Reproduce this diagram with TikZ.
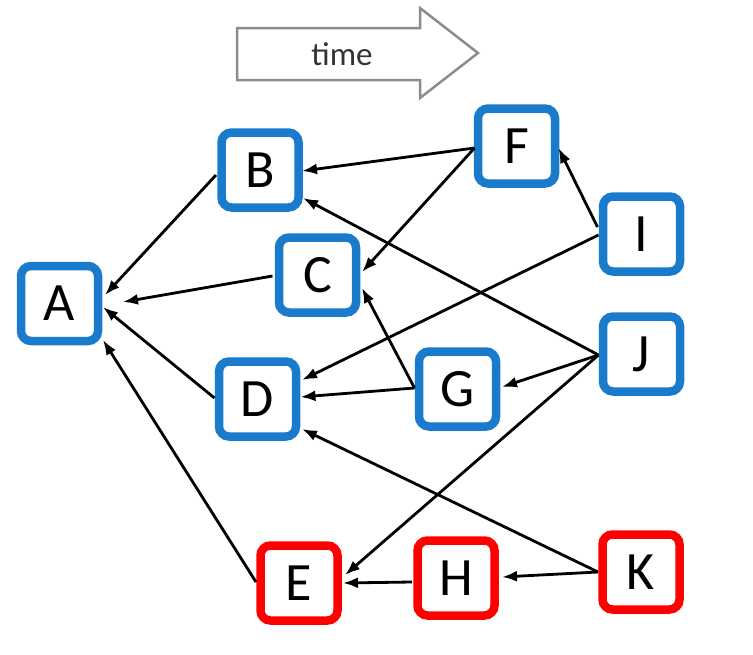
\documentclass[tikz,border=0pt]{standalone}
\usepackage{fontspec}
\setmainfont{Carlito}
\usetikzlibrary{arrows.meta,calc}
\definecolor{boxblue}{RGB}{26,122,204}
\definecolor{boxred}{RGB}{255,0,0}
\definecolor{arrgray}{RGB}{140,140,140}
\tikzset{
  box/.style={draw=boxblue, line width=8.5pt, rounded corners=10pt, fill=white,
    minimum width=77pt, minimum height=75pt, inner sep=0pt,
    font=\fontsize{54}{54}\selectfont},
  redbox/.style={box, draw=boxred},
  conn/.style={line width=2.8pt, black, -{Latex[length=15pt,width=11pt]}},
}
\begin{document}
\begin{tikzpicture}[x=1pt,y=-1pt]
\useasboundingbox (0,0) rectangle (753,654);
% time arrow
\draw[arrgray, line width=2.5pt, fill=white, line join=miter]
  (237,28) -- (420,28) -- (420,8) -- (478,53) -- (420,98) -- (420,80) -- (237,80) -- cycle;
\node[font=\fontsize{33}{33}\selectfont, text=black!80] (time) at (342,54) {time};
% nodes
\node[box] (A) at (59.5,303.5) {A};
\node[box] (B) at (260,170) {B};
\node[box] (C) at (317.5,275) {C};
\node[box] (D) at (257.5,399) {D};
\node[redbox] (E) at (299,583) {E};
\node[box] (F) at (516.5,146) {F};
\node[box] (G) at (457.5,389) {G};
\node[redbox] (H) at (456,578) {H};
\node[box] (I) at (641.5,234) {I};
\node[box] (J) at (641.5,354) {J};
\node[redbox] (K) at (641,572) {K};
% connectors
\draw[conn] ([shift={(-44,5)}]B.center) -- ([shift={(45.5,-8.5)}]A.center);
\draw[conn] ([shift={(-45,1)}]C.center) -- ([shift={(63.5,-1.5)}]A.center);
\draw[conn] ([shift={(-43,-1)}]D.center) -- ([shift={(43.5,3.5)}]A.center);
\draw[conn] ([shift={(-43,-1)}]E.center) -- ([shift={(43.5,36.5)}]A.center);
\draw[conn] ([shift={(-42,2)}]F.center) -- ([shift={(42,1)}]B.center);
\draw[conn] ([shift={(-42,2)}]F.center) -- ([shift={(44.5,-3)}]C.center);
\draw[conn] ([shift={(-44,-7)}]I.center) -- ([shift={(42,2)}]F.center);
\draw[conn] ([shift={(-43,1)}]I.center) -- ([shift={(44.5,-19)}]D.center);
\draw[conn] ([shift={(-43,1)}]J.center) -- ([shift={(43,28)}]B.center);
\draw[conn] ([shift={(-43,1)}]J.center) -- ([shift={(44.5,-2)}]G.center);
\draw[conn] ([shift={(-43,1)}]J.center) -- ([shift={(46,-8)}]E.center);
\draw[conn] ([shift={(-43,-1)}]G.center) -- ([shift={(44.5,13)}]C.center);
\draw[conn] ([shift={(-43,-1)}]G.center) -- ([shift={(43,-2)}]D.center);
\draw[conn] ([shift={(-43,0)}]K.center) -- ([shift={(44.5,30)}]D.center);
\draw[conn] ([shift={(-43,0)}]K.center) -- ([shift={(46,-1)}]H.center);
\draw[conn] ([shift={(-44,4)}]H.center) -- ([shift={(44,0)}]E.center);
\end{tikzpicture}
\end{document}
